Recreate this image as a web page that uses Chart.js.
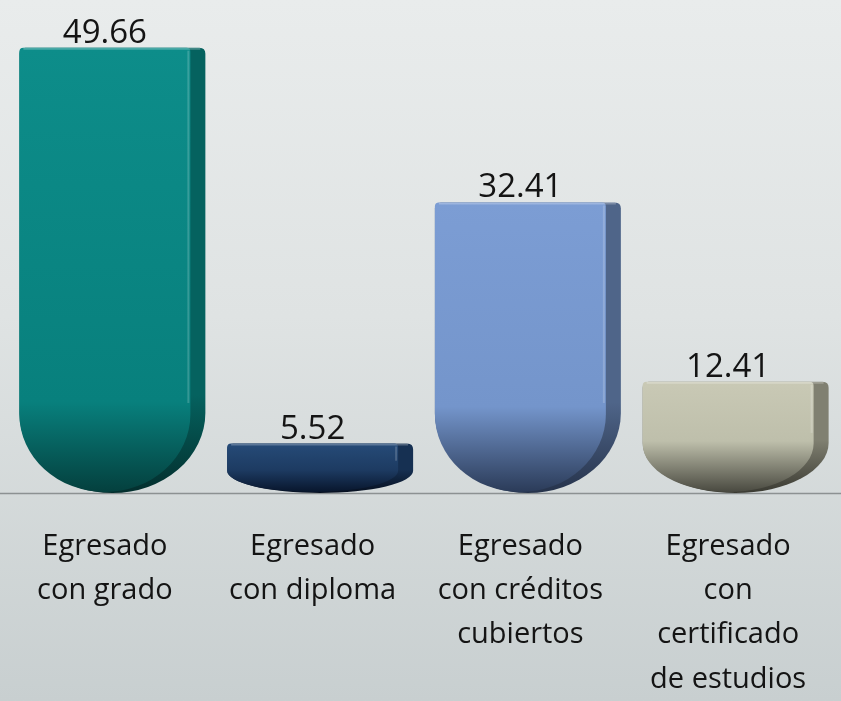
<!DOCTYPE html>
<html lang="es">
<head>
<meta charset="utf-8">
<title>Egresados</title>
<script src="https://cdn.jsdelivr.net/npm/chart.js@4/dist/chart.umd.min.js"></script>
<style>
  html, body { margin: 0; padding: 0; }
  body {
    width: 841px; height: 701px; overflow: hidden;
    background: linear-gradient(to bottom, #e9ecec 0%, #dfe3e3 45%, #c8cfd0 100%);
  }
  #wrap { position: relative; width: 841px; height: 701px; }
</style>
</head>
<body>
<div id="wrap"><canvas id="grafica"></canvas></div>
<script>
// categorías (etiquetas en varias líneas)
const categorias = [
    ['Egresado', 'con grado'],
    ['Egresado', 'con diploma'],
    ['Egresado', 'con créditos', 'cubiertos'],
    ['Egresado', 'con', 'certificado', 'de estudios']
];

// porcentajes
const valores = [49.66, 5.52, 32.41, 12.41];

// colores de cada barra: frente (arriba, medio, abajo) y costado
const coloresFrente = [
    ['#0d8d8a', '#08807d', '#043f3d'],
    ['#264b78', '#1d3b62', '#07142a'],
    ['#7c9dd4', '#7495cb', '#2a3a57'],
    ['#c9c9b5', '#bebfab', '#47473e']
];
const coloresCostado = [
    ['#05625f', '#032e2d'],
    ['#163052', '#060f1f'],
    ['#4f6589', '#26334b'],
    ['#808071', '#3a3a32']
];

const ANCHO_COSTADO = 15;

// forma de la barra: arriba plana, fondo elíptico
function trazarForma(ctx, x0, top, w, base, ry, r) {
    ctx.beginPath();
    ctx.moveTo(x0, base - ry);
    ctx.ellipse(x0 + w / 2, base - ry, w / 2, ry, 0, Math.PI, 0, true);
    ctx.lineTo(x0 + w, top + r);
    ctx.quadraticCurveTo(x0 + w, top, x0 + w - r, top);
    ctx.lineTo(x0 + r, top);
    ctx.quadraticCurveTo(x0, top, x0, top + r);
    ctx.closePath();
}

// línea base a todo lo ancho
const lineaBase = {
    id: 'lineaBase',
    beforeDatasetsDraw(chart) {
        const ctx = chart.ctx;
        const y0 = Math.round(chart.scales.y.getPixelForValue(0)) + 0.5;
        ctx.save();
        ctx.strokeStyle = '#8c9192';
        ctx.lineWidth = 1.5;
        ctx.beginPath();
        ctx.moveTo(0, y0);
        ctx.lineTo(chart.width, y0);
        ctx.stroke();
        ctx.restore();
    }
};

// dibuja las barras 3D y los valores usando la geometría de Chart.js
const barras3D = {
    id: 'barras3D',
    afterDatasetsDraw(chart) {
        const ctx = chart.ctx;
        const meta = chart.getDatasetMeta(0);
        meta.data.forEach((el, i) => {
            const {x, y, base, width} = el.getProps(['x', 'y', 'base', 'width'], true);
            const h = base - y;
            const ry = Math.min(80, h * 0.45);
            const x0 = x - width / 2;
            const t = (h - ry) / h;

            ctx.save();
            // costado
            let g = ctx.createLinearGradient(0, y, 0, base);
            g.addColorStop(0, coloresCostado[i][0]);
            g.addColorStop(Math.max(0, t * 0.95), coloresCostado[i][0]);
            g.addColorStop(1, coloresCostado[i][1]);
            ctx.fillStyle = g;
            trazarForma(ctx, x0, y, width + ANCHO_COSTADO, base, ry, 6);
            ctx.fill();

            // frente
            g = ctx.createLinearGradient(0, y, 0, base);
            g.addColorStop(0, coloresFrente[i][0]);
            g.addColorStop(Math.max(0, t * 0.97), coloresFrente[i][1]);
            g.addColorStop(1, coloresFrente[i][2]);
            ctx.fillStyle = g;
            trazarForma(ctx, x0, y, width, base - 1, ry * 0.97, 4);
            ctx.fill();

            // brillo superior y en la arista
            ctx.strokeStyle = 'rgba(255,255,255,0.25)';
            ctx.lineWidth = 2;
            ctx.beginPath();
            ctx.moveTo(x0 + 4, y + 1);
            ctx.lineTo(x0 + width + ANCHO_COSTADO - 5, y + 1);
            ctx.stroke();
            ctx.strokeStyle = 'rgba(255,255,255,0.18)';
            ctx.beginPath();
            ctx.moveTo(x0 + width - 2, y + 3);
            ctx.lineTo(x0 + width - 2, Math.max(y + 3, base - ry - 10));
            ctx.stroke();
            ctx.restore();

            // valor
            ctx.save();
            ctx.fillStyle = '#141414';
            ctx.font = '33px "Open Sans"';
            ctx.textAlign = 'center';
            ctx.textBaseline = 'alphabetic';
            ctx.fillText(valores[i].toFixed(2), x, y - 5);
            ctx.restore();
        });
    }
};

new Chart(document.getElementById('grafica'), {
    type: 'bar',
    data: {
        labels: categorias,
        datasets: [{
            data: valores,
            backgroundColor: 'rgba(0,0,0,0)',
            borderWidth: 0,
            barPercentage: 0.823,
            categoryPercentage: 1
        }]
    },
    options: {
        responsive: true,
        maintainAspectRatio: false,
        animation: false,
        layout: { padding: { left: 1, right: 9, top: 0, bottom: 0 } },
        plugins: {
            legend: { display: false },
            tooltip: { enabled: false }
        },
        scales: {
            x: {
                grid: { display: false, drawTicks: false },
                border: { display: false },
                ticks: {
                    color: '#141414',
                    font: { family: 'Open Sans', size: 29, lineHeight: 1.52 },
                    padding: 32,
                    maxRotation: 0,
                    autoSkip: false
                },
                afterFit(scale) { scale.height = 208; }
            },
            y: {
                display: false,
                min: 0,
                max: 55
            }
        }
    },
    plugins: [lineaBase, barras3D]
});
</script>
</body>
</html>
